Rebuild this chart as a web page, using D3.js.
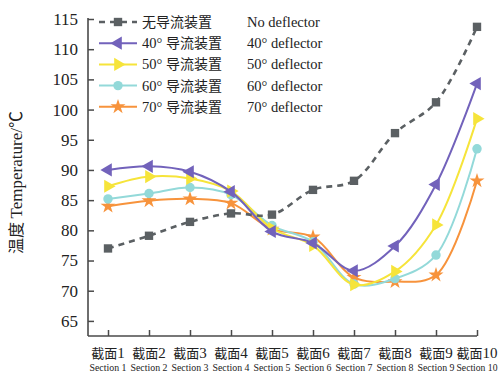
<!DOCTYPE html>
<html>
<head>
<meta charset="utf-8">
<script src="https://cdn.jsdelivr.net/npm/d3@7/dist/d3.min.js"></script>
<style>
  html, body { margin: 0; padding: 0; background: #fff; }
  svg { display: block; }
  text { font-family: "Liberation Serif", "Noto Sans CJK SC", serif; fill: #222; }
</style>
</head>
<body>
<svg id="chart" width="503" height="374"></svg>
<script>
// Sections along the duct
const sectionsCn = ["截面1","截面2","截面3","截面4","截面5","截面6","截面7","截面8","截面9","截面10"];
const sectionsEn = ["Section 1","Section 2","Section 3","Section 4","Section 5","Section 6","Section 7","Section 8","Section 9","Section 10"];

// Temperature (°C) at each section
const noDeflector = [77.0, 79.1, 81.4, 82.8, 82.6, 86.7, 88.2, 96.1, 101.2, 113.7];
const deflector40 = [90.0, 90.6, 89.7, 86.4, 79.8, 77.9, 73.3, 77.4, 87.6, 104.3];
const deflector50 = [87.3, 88.9, 88.6, 86.5, 80.3, 77.5, 71.0, 73.2, 80.9, 98.5];
const deflector60 = [85.2, 86.1, 87.1, 85.9, 80.8, 78.1, 71.1, 72.0, 75.9, 93.5];
const deflector70 = [84.0, 84.9, 85.2, 84.5, 80.2, 78.9, 72.2, 71.5, 72.6, 88.2];

const yTicks = [65, 70, 75, 80, 85, 90, 95, 100, 105, 110, 115];

const seriesCn = ["无导流装置", "40° 导流装置", "50° 导流装置", "60° 导流装置", "70° 导流装置"];
const seriesEn = ["No deflector", "40° deflector", "50° deflector", "60° deflector", "70° deflector"];

const series = [
  { cn: seriesCn[0], en: seriesEn[0], values: noDeflector, color: "#5b6063", symbol: "square", dashed: true },
  { cn: seriesCn[1], en: seriesEn[1], values: deflector40, color: "#7262bb", symbol: "triLeft" },
  { cn: seriesCn[2], en: seriesEn[2], values: deflector50, color: "#f6e43a", symbol: "triRight" },
  { cn: seriesCn[3], en: seriesEn[3], values: deflector60, color: "#93d9d9", symbol: "circle" },
  { cn: seriesCn[4], en: seriesEn[4], values: deflector70, color: "#f7933c", symbol: "star" }
];

const svg = d3.select("#chart");
const axisColor = "#4a4a4a";
const plotLeft = 88, plotRight = 477, plotTop = 19, plotBottom = 336;

const x = d3.scalePoint().domain(sectionsCn).range([108, 477]);
const y = d3.scaleLinear().domain([62.5, 115]).range([plotBottom, plotTop]);

// Y axis with inward ticks
const yAxis = svg.append("g")
  .attr("transform", `translate(${plotLeft},0)`)
  .call(d3.axisLeft(y).tickValues(yTicks).tickSizeInner(-6).tickSizeOuter(0).tickPadding(10).tickFormat(d3.format("d")));
yAxis.select(".domain").remove();
yAxis.selectAll(".tick line").attr("stroke", axisColor).attr("stroke-width", 1.5);
yAxis.selectAll(".tick text").attr("font-size", 17).attr("fill", "#222")
  .attr("font-family", "Liberation Serif, serif");
svg.append("line").attr("x1", plotLeft).attr("x2", plotLeft).attr("y1", plotTop - 1).attr("y2", plotBottom)
  .attr("stroke", axisColor).attr("stroke-width", 1.6);

// X axis with inward ticks and two-line labels
const xAxis = svg.append("g")
  .attr("transform", `translate(0,${plotBottom})`)
  .call(d3.axisBottom(x).tickSizeInner(-6).tickSizeOuter(0).tickFormat(""));
xAxis.select(".domain").remove();
xAxis.selectAll(".tick line").attr("stroke", axisColor).attr("stroke-width", 1.5);
svg.append("line").attr("x1", plotLeft).attr("x2", plotRight).attr("y1", plotBottom).attr("y2", plotBottom)
  .attr("stroke", axisColor).attr("stroke-width", 1.6);

sectionsCn.forEach((s, i) => {
  const cx = x(s);
  svg.append("text").attr("x", cx).attr("y", 358).attr("text-anchor", "middle")
    .attr("font-size", 13).attr("font-family", "Noto Sans CJK SC, sans-serif")
    .text(s.replace(/\d+/, "")).append("tspan")
    .attr("font-family", "Liberation Serif, serif").attr("font-size", 15)
    .text(s.match(/\d+/)[0]);
  svg.append("text").attr("x", cx).attr("y", 371).attr("text-anchor", "middle")
    .attr("font-size", 11).attr("textLength", i === 9 ? 41 : 37).attr("lengthAdjust", "spacingAndGlyphs")
    .text(sectionsEn[i]);
});

// Y axis title
svg.append("text")
  .attr("transform", `translate(22,${(plotTop + plotBottom) / 2 + 5}) rotate(-90)`)
  .attr("text-anchor", "middle").attr("font-size", 17)
  .call(t => {
    t.append("tspan").attr("font-family", "Noto Sans CJK SC, sans-serif").attr("font-size", 16).text("温度 ");
    t.append("tspan").text("Temperature/℃");
  });

// Marker drawing
function marker(g, kind, color, cx, cy) {
  let path, rot = 0;
  if (kind === "square") path = d3.symbol(d3.symbolSquare, 70)();
  else if (kind === "triLeft") { path = d3.symbol(d3.symbolTriangle, 75)(); rot = -90; }
  else if (kind === "triRight") { path = d3.symbol(d3.symbolTriangle, 75)(); rot = 90; }
  else if (kind === "circle") path = d3.symbol(d3.symbolCircle, 70)();
  else path = d3.symbol(d3.symbolStar, 70)();
  g.append("path").attr("d", path)
    .attr("transform", `translate(${cx},${cy}) rotate(${rot})`)
    .attr("fill", color).attr("stroke", "none");
}

const line = d3.line()
  .x((d, i) => x(sectionsCn[i]))
  .y(d => y(d))
  .curve(d3.curveCatmullRom.alpha(0.5));

// Draw deflector series first, dashed baseline on top
const drawOrder = [4, 3, 2, 1, 0];
drawOrder.forEach(k => {
  const s = series[k];
  const g = svg.append("g");
  g.append("path").attr("d", line(s.values))
    .attr("fill", "none").attr("stroke", s.color)
    .attr("stroke-width", s.dashed ? 2.6 : 2)
    .attr("stroke-dasharray", s.dashed ? "6,5" : null);
  s.values.forEach((v, i) => marker(g, s.symbol, s.color, x(sectionsCn[i]), y(v)));
});

// Legend
const legend = svg.append("g");
series.forEach((s, i) => {
  const ly = 22 + i * 21.2;
  legend.append("line").attr("x1", 99).attr("x2", 137).attr("y1", ly).attr("y2", ly)
    .attr("stroke", s.color).attr("stroke-width", s.dashed ? 2.6 : 2)
    .attr("stroke-dasharray", s.dashed ? "6,5" : null);
  marker(legend, s.symbol, s.color, 118, ly);
  const m = s.cn.match(/^(\d+°)\s*(.*)$/);
  const t = legend.append("text").attr("x", 142).attr("y", ly + 5).attr("font-size", 14.5);
  if (m) {
    t.append("tspan").text(m[1] + " ");
    t.append("tspan").attr("font-family", "Noto Sans CJK SC, sans-serif").attr("font-size", 14).text(m[2]);
  } else {
    t.append("tspan").attr("font-family", "Noto Sans CJK SC, sans-serif").attr("font-size", 14).text(s.cn);
  }
  legend.append("text").attr("x", 247).attr("y", ly + 5).attr("font-size", 14.5).text(s.en);
});
</script>
</body>
</html>
